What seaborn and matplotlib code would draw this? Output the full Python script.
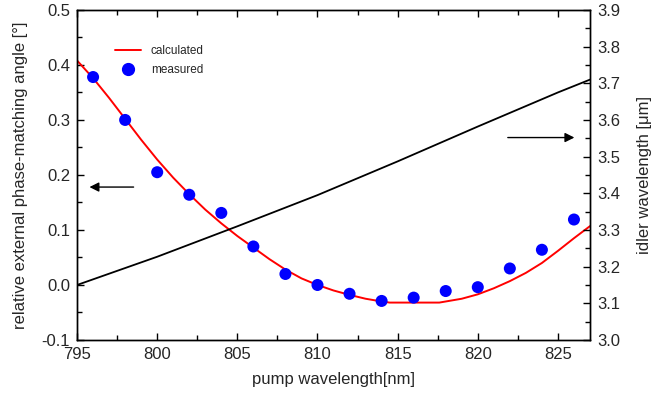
import numpy as np
import pandas as pd
import matplotlib
matplotlib.use('Agg')
import matplotlib.pyplot as plt
from matplotlib.ticker import MultipleLocator, FormatStrFormatter
from matplotlib.lines import Line2D
import seaborn as sns

# calculated phase-matching angle (left axis)
calc_wl = [795, 796, 797, 798, 799, 800, 801, 802, 803, 804, 805, 806, 807, 808,
           809, 810, 811, 812, 813, 814, 814.5, 817.6, 818, 819, 820, 821, 822,
           823, 824, 825, 826, 827]
calc_angle = [0.408, 0.376, 0.340, 0.302, 0.264, 0.228, 0.195, 0.165, 0.137, 0.112,
              0.089, 0.068, 0.047, 0.028, 0.012, 0.000, -0.010, -0.018, -0.025,
              -0.030, -0.032, -0.032, -0.030, -0.025, -0.017, -0.006, 0.007,
              0.022, 0.040, 0.062, 0.085, 0.107]

# measured phase-matching angle (left axis)
meas_wl = [796, 798, 800, 802, 804, 806, 808, 810, 812, 814, 816, 818, 820, 822, 824, 826]
meas_angle = [0.378, 0.300, 0.205, 0.164, 0.131, 0.070, 0.020, 0.000, -0.016, -0.029,
              -0.023, -0.011, -0.004, 0.030, 0.064, 0.119]

# idler wavelength (right axis)
idler_wl = [795, 800, 805, 810, 815, 820, 825, 827]
idler_um = [3.150, 3.227, 3.310, 3.395, 3.487, 3.582, 3.675, 3.710]

calc = pd.DataFrame({'pump': calc_wl, 'angle': calc_angle})
meas = pd.DataFrame({'pump': meas_wl, 'angle': meas_angle})
idler = pd.DataFrame({'pump': idler_wl, 'idler': idler_um})

sns.set_style('ticks')
plt.rcParams['font.family'] = ['Liberation Sans', 'DejaVu Sans']
plt.rcParams['axes.unicode_minus'] = False

fig = plt.figure(figsize=(6.53, 3.97), dpi=100)
ax = fig.add_axes([0.118, 0.1436, 0.7855, 0.8314])

sns.lineplot(data=calc, x='pump', y='angle', color='red', lw=1.4, ax=ax)
sns.scatterplot(data=meas, x='pump', y='angle', color='blue', s=75,
                edgecolor='none', ax=ax, zorder=3)

ax.set(xlim=(795, 827), ylim=(-0.1, 0.5))
ax.xaxis.set_major_locator(MultipleLocator(5))
ax.xaxis.set_minor_locator(MultipleLocator(2.5))
ax.yaxis.set_major_locator(MultipleLocator(0.1))
ax.yaxis.set_minor_locator(MultipleLocator(0.05))
ax.yaxis.set_major_formatter(FormatStrFormatter('%.1f'))
ax.tick_params(which='both', direction='in', top=True, labelsize=12, width=1,
               color='black', pad=5)
ax.tick_params(which='major', length=5)
ax.tick_params(which='minor', length=3.5)
ax.set_xlabel('pump wavelength[nm]', fontsize=12, labelpad=7)
ax.set_ylabel('relative external phase-matching angle [°]', fontsize=12, labelpad=10)

ax2 = ax.twinx()
sns.lineplot(data=idler, x='pump', y='idler', color='black', lw=1.3, ax=ax2)
ax2.set_ylim(3.0, 3.9)
ax2.yaxis.set_major_locator(MultipleLocator(0.1))
ax2.yaxis.set_minor_locator(MultipleLocator(0.05))
ax2.yaxis.set_major_formatter(FormatStrFormatter('%.1f'))
ax2.tick_params(which='both', direction='in', labelsize=12, width=1,
                color='black', pad=5)
ax2.tick_params(which='major', length=5)
ax2.tick_params(which='minor', length=3.5)
ax2.set_ylabel('idler wavelength [μm]', fontsize=12, labelpad=12)

for a in (ax, ax2):
    for sp in a.spines.values():
        sp.set_visible(True)
        sp.set_linewidth(1)
        sp.set_color('black')

# arrows pointing to the relevant axes
ax.annotate('', xy=(795.6, 0.178), xytext=(798.7, 0.178),
            arrowprops=dict(arrowstyle='-|>', color='black', lw=1, mutation_scale=14))
ax2.annotate('', xy=(826.2, 3.552), xytext=(821.7, 3.552),
             arrowprops=dict(arrowstyle='-|>', color='black', lw=1, mutation_scale=14))

handles = [Line2D([], [], color='red', lw=1.4),
           Line2D([], [], color='blue', marker='o', ls='none', markersize=8.5)]
ax.legend(handles, ['calculated', 'measured'], loc='upper left',
          bbox_to_anchor=(0.054, 0.925), frameon=False, fontsize=8.5,
          handlelength=2.2, labelspacing=0.55)

fig.savefig('out.png', dpi=100)
